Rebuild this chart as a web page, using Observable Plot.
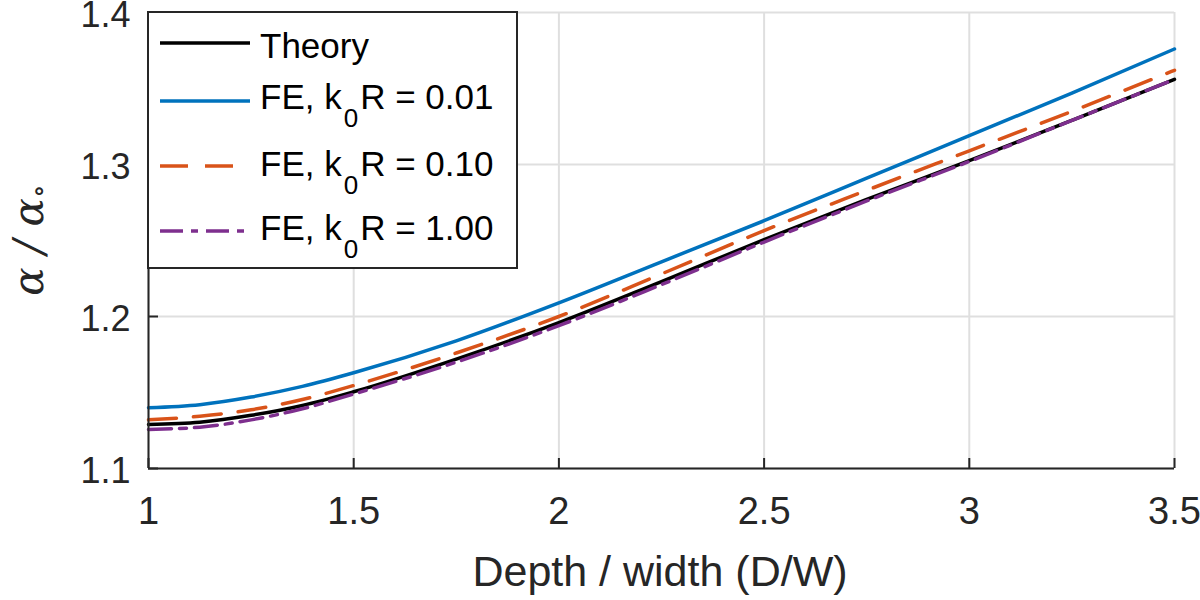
<!DOCTYPE html>
<html><head><meta charset="utf-8">
<script src="https://cdn.jsdelivr.net/npm/d3@7"></script>
<script src="https://cdn.jsdelivr.net/npm/@observablehq/plot@0.6"></script>
<style>
body{margin:0;background:#fff}
#chart{width:1200px;height:600px;position:relative}
</style>
</head><body><div id="chart"></div>
<script>
const xValues = [1, 1.125, 1.25, 1.375, 1.5, 1.75, 2, 2.25, 2.5, 2.75, 3, 3.25, 3.5];
const theory  = [1.129, 1.1305, 1.135, 1.1415, 1.1505, 1.172, 1.196, 1.223, 1.2505, 1.277, 1.3025, 1.329, 1.356];
const fe001   = [1.140, 1.142, 1.147, 1.154, 1.163, 1.184, 1.209, 1.236, 1.263, 1.291, 1.319, 1.347, 1.376];
const fe010   = [1.132, 1.1344, 1.1386, 1.1454, 1.1546, 1.176, 1.200, 1.228, 1.2565, 1.283, 1.309, 1.335, 1.362];
const fe100   = [1.1257, 1.1272, 1.132, 1.1393, 1.149, 1.170, 1.194, 1.221, 1.249, 1.276, 1.302, 1.329, 1.356];
const xTicks = [1, 1.5, 2, 2.5, 3, 3.5];
const yTicks = [1.1, 1.2, 1.3, 1.4];
const seriesLabels = ["Theory", "0.01", "0.10", "1.00"];
const colors = ["#000000", "#0072BD", "#D95319", "#7E2F8E"];
const dashes = [null, null, "28,17", "23,8,7,8"];

const seriesValues = [theory, fe001, fe010, fe100];
const tables = seriesValues.map(vals => xValues.map((x, i) => ({x, y: vals[i]})));

const axisColor = "#262626";
const gridColor = "#dfdfdf";

const plot = Plot.plot({
  width: 1200, height: 600,
  marginLeft: 148, marginRight: 26, marginTop: 12, marginBottom: 132,
  x: {domain: [1, 3.5]},
  y: {domain: [1.1, 1.4]},
  style: {fontFamily: "'Liberation Sans', Arial, sans-serif", background: "#fff", color: "#262626"},
  marks: [
    Plot.gridX(xTicks, {stroke: gridColor, strokeOpacity: 1, strokeWidth: 2}),
    Plot.gridY(yTicks, {stroke: gridColor, strokeOpacity: 1, strokeWidth: 2}),
    ...tables.map((t, i) => Plot.line(t, {x: "x", y: "y", curve: "monotone-x", stroke: colors[i], strokeWidth: 3.5, strokeDasharray: dashes[i] ?? undefined})),
    Plot.ruleX([1], {stroke: axisColor, strokeWidth: 2}),
    Plot.ruleY([1.1], {stroke: axisColor, strokeWidth: 2}),
    Plot.tickX(xTicks, {x: d => d, stroke: axisColor, strokeWidth: 2, insetTop: 446}),
    Plot.tickY(yTicks, {y: d => d, stroke: axisColor, strokeWidth: 2, insetRight: 1016}),
    Plot.axisX(xTicks, {tickSize: 0, tickPadding: 29, fontSize: 38, label: null, tickFormat: d => String(d), fill: "#262626"}),
    Plot.axisY(yTicks, {tickSize: 0, tickPadding: 18, fontSize: 36, dy: 3, label: null, tickFormat: d => d.toFixed(1), fill: "#262626"})
  ]
});
document.getElementById("chart").appendChild(plot);

const svg = d3.select(plot);
// x label
svg.append("text")
  .attr("x", 660).attr("y", 586)
  .attr("text-anchor", "middle")
  .attr("font-family", "'Liberation Sans', Arial, sans-serif")
  .attr("font-size", 43)
  .attr("fill", "#262626")
  .text("Depth / width (D/W)");

// y label
const yl = svg.append("text")
  .attr("transform", "translate(43,240) rotate(-90)")
  .attr("text-anchor", "middle")
  .attr("font-family", "'DejaVu Serif', serif")
  .attr("font-style", "italic")
  .attr("font-size", 42)
  .attr("fill", "#262626");
yl.append("tspan").text("α / α");
yl.append("tspan").attr("font-size", 28).attr("font-style", "normal").attr("dy", 5).text("∘");

// legend
const lg = svg.append("g");
lg.append("rect").attr("x", 148).attr("y", 12).attr("width", 369).attr("height", 256)
  .attr("fill", "#fff").attr("stroke", axisColor).attr("stroke-width", 2);
const rowLine = [43, 101, 166, 231];
const rowBase = [58, 109, 176, 240];
seriesLabels.forEach((lab, i) => {
  const ln = lg.append("line").attr("x1", 160).attr("x2", 250).attr("y1", rowLine[i]).attr("y2", rowLine[i])
    .attr("stroke", colors[i]).attr("stroke-width", 3.5);
  if (dashes[i]) ln.attr("stroke-dasharray", dashes[i]);
  const t = lg.append("text").attr("x", 260).attr("y", rowBase[i])
    .attr("text-anchor", "start")
    .attr("font-family", "'Liberation Sans', Arial, sans-serif")
    .attr("font-size", 35).attr("fill", "#000");
  if (i === 0) {
    t.text(lab);
  } else {
    t.append("tspan").text("FE, k");
    t.append("tspan").attr("font-size", 26).attr("dy", 18).attr("dx", 2).text("0");
    t.append("tspan").attr("dy", -18).attr("dx", 2).text("R = " + lab);
  }
});
</script>
</body></html>
